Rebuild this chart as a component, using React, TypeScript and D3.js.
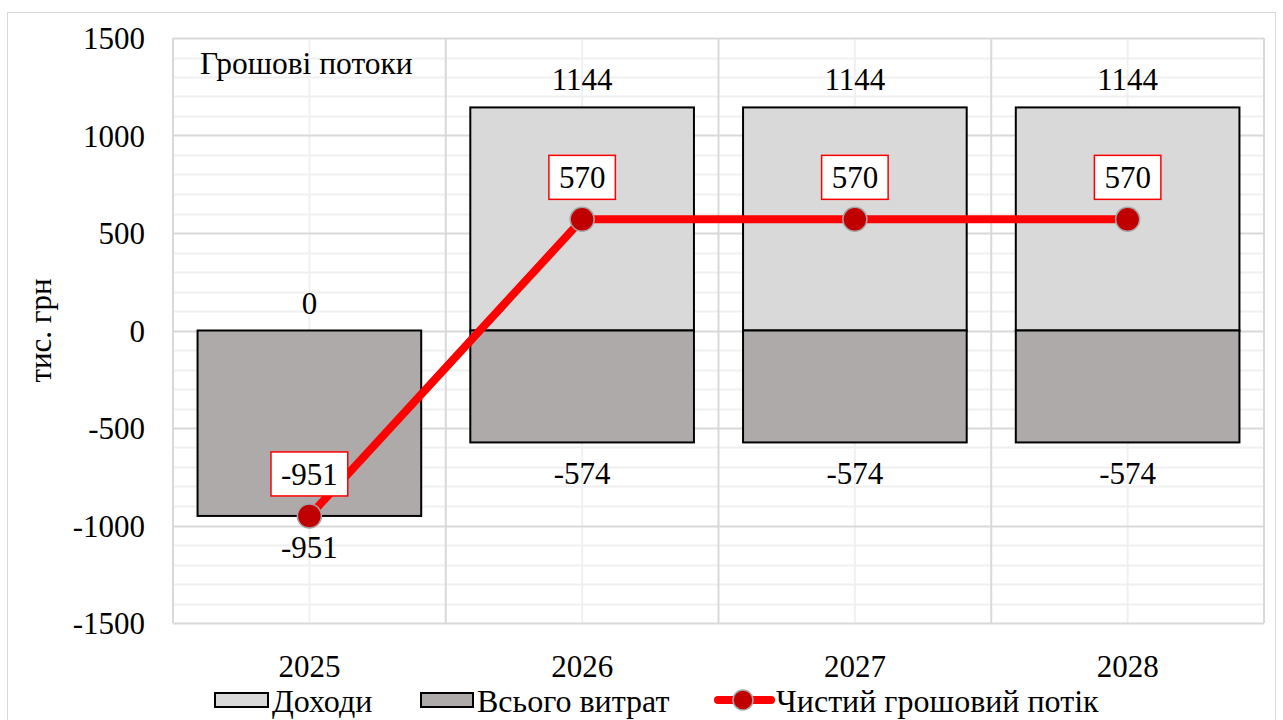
import React from "react";
import * as d3 from "d3";

const years = ["2025", "2026", "2027", "2028"];
const income = [0, 1144, 1144, 1144];
const expenses = [-951, -574, -574, -574];
const netFlow = [-951, 570, 570, 570];
const yTicks = [-1500, -1000, -500, 0, 500, 1000, 1500];

const W = 1283;
const H = 720;
const FONT = "Liberation Serif";
const FS = 31;

const left = 173;
const right = 1264;
const top = 38;
const bottom = 623;

const App = () => {
  const x = d3
    .scaleBand()
    .domain(years)
    .range([left, right])
    .paddingInner(0.18)
    .paddingOuter(0.09);
  const step = x.step();
  const y = d3.scaleLinear().domain([-1500, 1500]).range([bottom, top]);
  const cx = (d: string) => (x(d) as number) + x.bandwidth() / 2;
  const py = (v: number) => Math.round(y(v)) + 0.5;

  const minor = d3.range(-1500, 1501, 100).filter((v) => v % 500 !== 0);
  const bounds = d3.range(years.length + 1).map((i) => left + i * step);
  const pts: [string, number][] = years.map((yr, i) => [yr, netFlow[i]]);
  const line = d3
    .line<[string, number]>()
    .x((d) => cx(d[0]))
    .y((d) => y(d[1]));

  const ly = 700;

  return (
    <svg
      width={W}
      height={H}
      style={{ position: "absolute", left: 0, top: 0, background: "white" }}
      fontFamily={FONT}
      fontSize={FS}
    >
      {/* chart border */}
      <rect x={7.5} y={12.5} width={1268} height={730} fill="white" stroke="#d9d9d9" />

      {/* gridlines */}
      {minor.map((v) => (
        <line key={"m" + v} x1={left} x2={right} y1={py(v)} y2={py(v)} stroke="#f0f0f0" strokeWidth={2} />
      ))}
      {years.map((yr) => (
        <line key={"c" + yr} x1={cx(yr)} x2={cx(yr)} y1={top} y2={bottom} stroke="#f0f0f0" strokeWidth={2} />
      ))}
      {yTicks.map((v) => (
        <line key={"M" + v} x1={left} x2={right} y1={py(v)} y2={py(v)} stroke="#d9d9d9" strokeWidth={2} />
      ))}
      {bounds.map((b, i) => (
        <line key={"b" + i} x1={b} x2={b} y1={top} y2={bottom} stroke="#d9d9d9" strokeWidth={2} />
      ))}

      {/* bars */}
      {years.map((yr, i) =>
        income[i] === 0 ? null : (
          <rect
            key={"inc" + yr}
            x={x(yr)}
            width={x.bandwidth()}
            y={y(income[i])}
            height={y(0) - y(income[i])}
            fill="#d9d9d9"
            stroke="black"
            strokeWidth={2}
          />
        )
      )}
      {years.map((yr, i) => (
        <rect
          key={"exp" + yr}
          x={x(yr)}
          width={x.bandwidth()}
          y={y(0)}
          height={y(expenses[i]) - y(0)}
          fill="#aeaaaa"
          stroke="black"
          strokeWidth={2}
        />
      ))}

      {/* bar labels */}
      {years.map((yr, i) => (
        <text key={"li" + yr} x={cx(yr)} y={y(income[i]) - 17} textAnchor="middle">
          {income[i]}
        </text>
      ))}
      {years.map((yr, i) => (
        <text key={"le" + yr} x={cx(yr)} y={y(expenses[i]) + 42} textAnchor="middle">
          {expenses[i]}
        </text>
      ))}

      {/* net flow */}
      <path d={line(pts) || ""} fill="none" stroke="#ff0000" strokeWidth={8} />
      {pts.map((d) => (
        <circle key={"p" + d[0]} cx={cx(d[0])} cy={y(d[1])} r={12} fill="#c00000" stroke="#a6a6a6" strokeWidth={1.5} />
      ))}
      {pts.map((d) => {
        const s = String(d[1]);
        const tw = s.replace("-", "").length * 15.5 + (s.startsWith("-") ? 10.3 : 0);
        const hw = tw / 2 + 10;
        return (
          <g key={"n" + d[0]} transform={`translate(${cx(d[0])},${y(d[1]) - 42})`}>
            <rect x={-hw} y={-22} width={2 * hw} height={44} fill="white" stroke="#ff0000" strokeWidth={1.5} />
            <text textAnchor="middle" dy={11}>
              {d[1]}
            </text>
          </g>
        );
      })}

      {/* axes labels */}
      {yTicks.map((v) => (
        <text key={"y" + v} x={145} y={y(v) + 11} textAnchor="end">
          {v}
        </text>
      ))}
      {years.map((yr) => (
        <text key={"x" + yr} x={cx(yr)} y={677} textAnchor="middle">
          {yr}
        </text>
      ))}
      <text transform={`translate(51,${y(0)}) rotate(-90)`} textAnchor="middle">
        тис. грн
      </text>
      <text x={200} y={74} fontSize={31.5}>
        Грошові потоки
      </text>

      {/* legend */}
      <g fontSize={32}>
        <rect x={215} y={ly - 7} width={53} height={14} fill="#d9d9d9" stroke="black" strokeWidth={2} />
        <text x={272} y={ly + 12}>Доходи</text>
        <rect x={421} y={ly - 7} width={52} height={14} fill="#aeaaaa" stroke="black" strokeWidth={2} />
        <text x={477} y={ly + 12}>Всього витрат</text>
        <line x1={718} x2={771} y1={ly} y2={ly} stroke="#ff0000" strokeWidth={8} strokeLinecap="round" />
        <circle cx={743} cy={ly} r={10} fill="#c00000" stroke="#a6a6a6" strokeWidth={1.5} />
        <text x={776} y={ly + 12}>Чистий грошовий потік</text>
      </g>
    </svg>
  );
};

export default App;
